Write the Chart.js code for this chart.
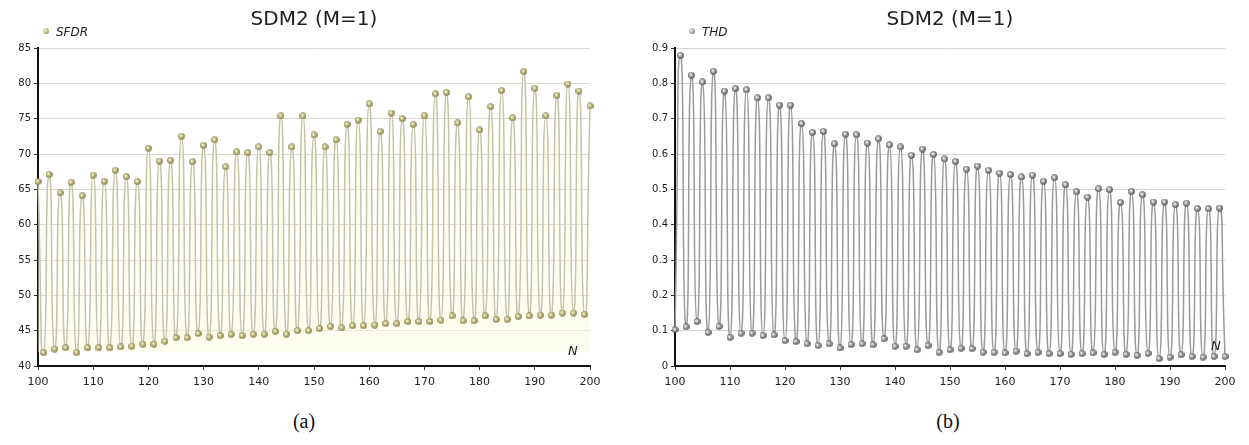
<!DOCTYPE html>
<html>
<head>
<meta charset="utf-8">
<script src="https://cdn.jsdelivr.net/npm/chart.js@4.4.0/dist/chart.umd.min.js"></script>
<style>
  body { margin: 0; background: #fff; width: 1249px; height: 445px; position: relative; overflow: hidden; font-family: "DejaVu Sans", sans-serif; }
  .box { position: absolute; top: 0; height: 400px; }
  #boxA { left: 0; width: 620px; }
  #boxB { left: 640px; width: 609px; }
  .leg { position: absolute; top: 25px; font-style: italic; font-size: 12px; color: #222; white-space: nowrap; }
  .leg i { display: inline-block; width: 6px; height: 6px; border-radius: 50%; margin-right: 7px; vertical-align: 2px; }
  .nlab { position: absolute; font-style: italic; font-size: 13px; color: #222; }
  .cap { position: absolute; top: 410px; width: 100px; text-align: center; font-family: "Liberation Serif", serif; font-size: 20px; color: #111; }
</style>
</head>
<body>
<div class="box" id="boxA"><canvas id="sfdr" width="620" height="400"></canvas></div>
<div class="box" id="boxB"><canvas id="thd" width="609" height="400"></canvas></div>
<div class="leg" style="left:43px"><i style="background:radial-gradient(circle at 35% 35%, #f4f2d8, #a8a060 70%, #6e6a3a)"></i>SFDR</div>
<div class="leg" style="left:689px"><i style="background:radial-gradient(circle at 35% 35%, #eeeeee, #8a8a8a 70%, #444)"></i>THD</div>
<div class="nlab" style="left:568px;top:343px">N</div>
<div class="nlab" style="left:1211px;top:338px">N</div>
<div class="cap" style="left:254px">(a)</div>
<div class="cap" style="left:898px">(b)</div>
<script>
// N = 100 ... 200
const nValues = [100, 101, 102, 103, 104, 105, 106, 107, 108, 109, 110, 111, 112, 113, 114, 115, 116, 117, 118, 119,
  120, 121, 122, 123, 124, 125, 126, 127, 128, 129, 130, 131, 132, 133, 134, 135, 136, 137, 138, 139,
  140, 141, 142, 143, 144, 145, 146, 147, 148, 149, 150, 151, 152, 153, 154, 155, 156, 157, 158, 159,
  160, 161, 162, 163, 164, 165, 166, 167, 168, 169, 170, 171, 172, 173, 174, 175, 176, 177, 178, 179,
  180, 181, 182, 183, 184, 185, 186, 187, 188, 189, 190, 191, 192, 193, 194, 195, 196, 197, 198, 199, 200];

// SFDR, even N (100, 102, ... 200) -> peaks
const sfdrEven = [66.1, 67.1, 64.5, 66.0, 64.1, 67.0, 66.1, 67.7, 66.8, 66.1,
  70.8, 69.0, 69.1, 72.5, 68.9, 71.2, 72.0, 68.2, 70.3, 70.2,
  71.0, 70.2, 75.4, 71.0, 75.4, 72.7, 71.0, 72.0, 74.2, 74.8,
  77.1, 73.2, 75.8, 75.0, 74.2, 75.4, 78.5, 78.7, 74.4, 78.1,
  73.4, 76.7, 79.0, 75.1, 81.7, 79.3, 75.4, 78.3, 79.9, 78.9, 76.8];
// SFDR, odd N (101, 103, ... 199) -> valleys
const sfdrOdd = [41.9, 42.4, 42.6, 41.9, 42.6, 42.6, 42.6, 42.7, 42.8, 43.1,
  43.1, 43.5, 44.0, 44.0, 44.6, 44.1, 44.3, 44.5, 44.3, 44.5,
  44.5, 44.9, 44.5, 45.0, 45.0, 45.3, 45.6, 45.4, 45.7, 45.7,
  45.8, 46.0, 46.0, 46.3, 46.3, 46.3, 46.5, 47.1, 46.4, 46.4,
  47.1, 46.6, 46.6, 47.0, 47.1, 47.2, 47.2, 47.5, 47.5, 47.3];

// THD, odd N (101 ... 199) -> peaks
const thdOdd = [0.879, 0.823, 0.804, 0.834, 0.778, 0.785, 0.782, 0.759, 0.759, 0.738,
  0.738, 0.686, 0.661, 0.664, 0.629, 0.656, 0.655, 0.631, 0.643, 0.626,
  0.620, 0.596, 0.614, 0.599, 0.586, 0.579, 0.557, 0.566, 0.554, 0.546,
  0.542, 0.535, 0.540, 0.523, 0.533, 0.513, 0.493, 0.478, 0.502, 0.499,
  0.463, 0.494, 0.485, 0.464, 0.464, 0.457, 0.461, 0.446, 0.445, 0.447];
// THD, even N (100 ... 200) -> valleys
const thdEven = [0.103, 0.111, 0.126, 0.095, 0.112, 0.081, 0.093, 0.093, 0.086, 0.088,
  0.072, 0.069, 0.063, 0.058, 0.063, 0.051, 0.061, 0.063, 0.060, 0.077,
  0.056, 0.056, 0.046, 0.058, 0.039, 0.046, 0.050, 0.049, 0.039, 0.039,
  0.037, 0.042, 0.035, 0.039, 0.035, 0.035, 0.033, 0.035, 0.037, 0.033,
  0.039, 0.033, 0.030, 0.036, 0.021, 0.025, 0.032, 0.027, 0.025, 0.027, 0.027];

const xTicks = [100, 110, 120, 130, 140, 150, 160, 170, 180, 190, 200];

function merge(evenVals, oddVals) {
  return nValues.map((n, i) => ({ x: n, y: i % 2 === 0 ? evenVals[i / 2] : oddVals[(i - 1) / 2] }));
}

function sphere(light, mid, dark) {
  const c = document.createElement('canvas');
  c.width = 7; c.height = 7;
  const g = c.getContext('2d');
  const grad = g.createRadialGradient(2.6, 2.6, 0.4, 3.5, 3.5, 3.5);
  grad.addColorStop(0, light);
  grad.addColorStop(0.6, mid);
  grad.addColorStop(1, dark);
  g.fillStyle = grad;
  g.beginPath();
  g.arc(3.5, 3.5, 3.3, 0, Math.PI * 2);
  g.fill();
  return c;
}

function makeChart(id, label, data, yMin, yMax, yStep, opts) {
  return new Chart(document.getElementById(id), {
    type: 'line',
    data: {
      datasets: [{
        label: label,
        data: data,
        borderColor: opts.line,
        borderWidth: 1.5,
        tension: 0.8,
        pointStyle: opts.point,
        pointRadius: 3.5,
        fill: opts.fill,
        backgroundColor: opts.fillColor,
        clip: false
      }]
    },
    options: {
      responsive: false,
      animation: false,
      layout: { padding: { left: 0, right: opts.padRight, top: 0, bottom: 0 } },
      plugins: {
        legend: { display: false },
        tooltip: { enabled: false },
        title: {
          display: true,
          text: 'SDM2 (M=1)',
          fullSize: false,
          color: '#222',
          font: { family: 'DejaVu Sans', size: 20, weight: 'normal' },
          padding: { top: 8, bottom: 16 }
        }
      },
      scales: {
        x: {
          type: 'linear',
          min: 100,
          max: 200,
          afterFit: s => { s.height = 34; },
          afterBuildTicks: s => { s.ticks = xTicks.map(v => ({ value: v })); },
          border: { color: '#111', width: 2 },
          grid: { drawOnChartArea: false, tickLength: 4, tickColor: '#333' },
          ticks: { color: '#222', padding: 6, font: { family: 'DejaVu Sans', size: 11 } }
        },
        y: {
          min: yMin,
          max: yMax,
          afterFit: s => { s.width = opts.yWidth; },
          border: { color: '#111', width: 2 },
          grid: { color: opts.grid, tickLength: 4, tickColor: '#333' },
          ticks: { stepSize: yStep, color: '#222', padding: 3, font: { family: 'DejaVu Sans', size: 10 } }
        }
      }
    }
  });
}

makeChart('sfdr', 'SFDR', merge(sfdrEven, sfdrOdd), 40, 85, 5, {
  line: '#c4c4aa',
  point: sphere('#f6f4dc', '#b0a868', '#6e6a3a'),
  fill: { value: 42 },
  fillColor: 'rgba(252, 252, 220, 0.45)',
  grid: '#d8d8cc',
  yWidth: 38,
  padRight: 30
});

makeChart('thd', 'THD', merge(thdEven, thdOdd), 0, 0.9, 0.1, {
  line: '#9a9a9a',
  point: sphere('#f0f0f0', '#8a8a8a', '#3c3c3c'),
  fill: false,
  fillColor: 'rgba(0,0,0,0)',
  grid: '#d4d4d4',
  yWidth: 35,
  padRight: 24
});
</script>
</body>
</html>
